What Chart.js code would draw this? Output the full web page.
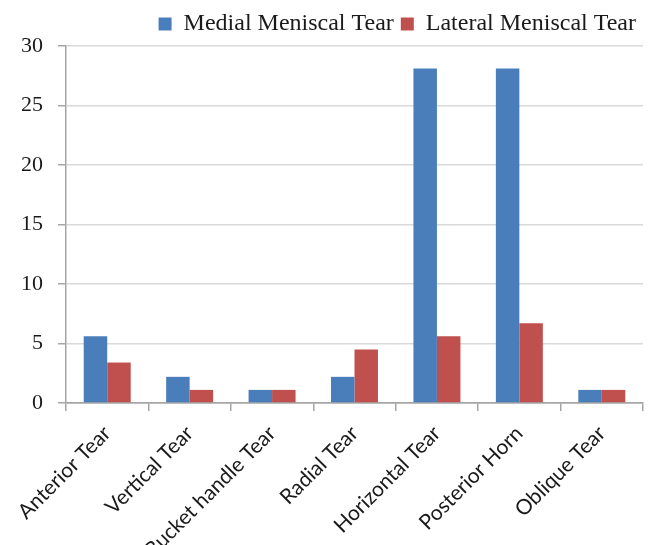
<!DOCTYPE html>
<html>
<head>
<meta charset="utf-8">
<script src="https://cdn.jsdelivr.net/npm/chart.js@4/dist/chart.umd.min.js"></script>
<style>
  html, body { margin: 0; padding: 0; background: #fff; }
  #wrap { width: 659px; height: 545px; }
</style>
</head>
<body>
<div id="wrap"><canvas id="c" width="659" height="545"></canvas></div>
<script>
// Meniscal tear types, percent of patients
const categories = ["Anterior Tear", "Vertical Tear", "Bucket handle Tear", "Radial Tear",
                    "Horizontal Tear", "Posterior Horn", "Oblique Tear"];
const medialTear  = [5.6, 2.2, 1.1, 2.2, 28.1, 28.1, 1.1];
const lateralTear = [3.4, 1.1, 1.1, 4.5, 5.6, 6.7, 1.1];
const yTicks = [0, 5, 10, 15, 20, 25, 30];

const axisGray = "#a6a6a6";
const serif = "'Liberation Serif', 'Times New Roman', serif";

new Chart(document.getElementById("c"), {
  type: "bar",
  data: {
    labels: categories,
    datasets: [
      { label: "Medial Meniscal Tear", data: medialTear, backgroundColor: "#4a7ebb", borderWidth: 0 },
      { label: "Lateral Meniscal Tear", data: lateralTear, backgroundColor: "#c0504d", borderWidth: 0 }
    ]
  },
  options: {
    responsive: false,
    animation: false,
    devicePixelRatio: 1,
    layout: { padding: { left: 0, right: 16, top: 5, bottom: 0 } },
    datasets: { bar: { categoryPercentage: 0.57, barPercentage: 1.0 } },
    plugins: {
      tooltip: { enabled: false },
      legend: {
        position: "top",
        align: "end",
        labels: {
          boxWidth: 13, boxHeight: 13, padding: 7,
          color: "#1a1a1a",
          font: { family: serif, size: 24 }
        }
      }
    },
    scales: {
      x: {
        offset: true,
        grid: { display: true, drawOnChartArea: false, drawTicks: true, tickLength: 8,
                color: axisGray, lineWidth: 1.5, offset: true },
        border: { display: true, color: axisGray, width: 1.5 },
        ticks: {
          minRotation: 45, maxRotation: 45, autoSkip: false, padding: 10,
          color: "#1a1a1a",
          font: { family: "Lato, 'Liberation Sans', sans-serif", size: 21 }
        },
        afterFit(scale) { scale.height = 142; }
      },
      y: {
        min: 0, max: 30,
        afterBuildTicks(scale) { scale.ticks = yTicks.map(v => ({ value: v })); },
        grid: { color: (ctx) => ctx.tick && ctx.tick.value === 0 ? axisGray : "#d9d9d9",
                lineWidth: 1.5, drawTicks: true, tickLength: 8, tickColor: axisGray },
        border: { display: true, color: axisGray, width: 1.5 },
        ticks: {
          padding: 15, color: "#1a1a1a",
          font: { family: serif, size: 22 }
        },
        afterFit(scale) { scale.width = 66; }
      }
    }
  }
});
</script>
</body>
</html>
